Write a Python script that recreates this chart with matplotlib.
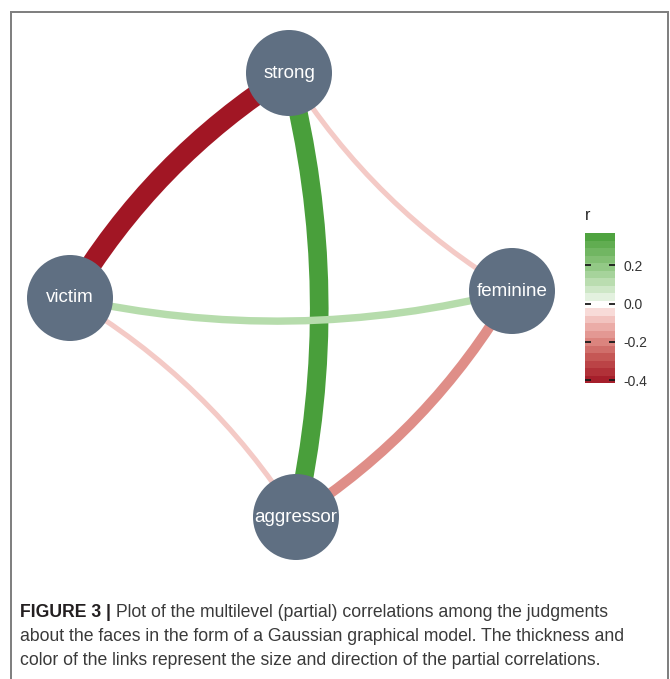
import numpy as np
import matplotlib
matplotlib.use("Agg")
import matplotlib.pyplot as plt
from matplotlib.path import Path
from matplotlib.patches import PathPatch, Circle
from matplotlib.colors import LinearSegmentedColormap, Normalize
from matplotlib.cm import ScalarMappable
from matplotlib.lines import Line2D

plt.rcParams["font.family"] = ["Liberation Sans", "DejaVu Sans"]

# nodes of the Gaussian graphical model (layout in pixel space)
nodes = ["strong", "victim", "feminine", "aggressor"]
node_x = [289, 70, 512, 296]
node_y = [73, 298, 291, 517]

# partial correlations (edge from -> to, sign of the edge sets the bend side)
edge_from = ["strong", "aggressor", "victim", "strong", "aggressor", "aggressor"]
edge_to = ["victim", "strong", "feminine", "feminine", "victim", "feminine"]
edge_r = [-0.415, 0.37, 0.12, -0.07, -0.07, -0.18]

r_min, r_max = min(edge_r), max(edge_r)
legend_ticks = [-0.4, -0.2, 0.0, 0.2]

W, H = 670, 679
fig = plt.figure(figsize=(W / 100, H / 100), dpi=100)
ax = fig.add_axes([0, 0, 1, 1])
ax.set_xlim(0, W)
ax.set_ylim(H, 0)
ax.axis("off")

# red - white - green gradient (roughly Lab-like spacing)
cmap = LinearSegmentedColormap.from_list("rg", [
    (0.00, "#A11624"), (0.15, "#C2504F"), (0.25, "#D9807A"),
    (0.35, "#EBABA6"), (0.45, "#F8DAD7"), (0.50, "#FFFFFF"),
    (0.55, "#E0F0DC"), (0.65, "#B5DBAB"), (0.75, "#8CC57E"),
    (0.86, "#66B056"), (0.94, "#4AA03B"), (1.00, "#46993A"),
])
lim = max(abs(r_min), abs(r_max))
norm = Normalize(-lim, lim)

pos = {n: (x, y) for n, x, y in zip(nodes, node_x, node_y)}
bend = 0.12
px = 72 / 100  # points per pixel

for a, b, r in zip(edge_from, edge_to, edge_r):
    x0, y0 = pos[a]
    x1, y1 = pos[b]
    dx, dy = x1 - x0, y1 - y0
    cx = (x0 + x1) / 2 - bend * dy
    cy = (y0 + y1) / 2 + bend * dx
    path = Path([(x0, y0), (cx, cy), (x1, y1)],
                [Path.MOVETO, Path.CURVE3, Path.CURVE3])
    ax.add_patch(PathPatch(path, fill=False, edgecolor=cmap(norm(r)),
                           linewidth=(2 + 45 * abs(r)) * px,
                           capstyle="butt", zorder=1))

for n, x, y in zip(nodes, node_x, node_y):
    ax.add_patch(Circle((x, y), 43, facecolor="#5F6F82", edgecolor="none", zorder=3))
    ax.text(x, y, n, color="white", fontsize=13.5, ha="center", va="center", zorder=4)

# legend colour bar
cax = fig.add_axes([585 / W, 1 - 383 / H, 30 / W, 150 / H])
bounds = np.linspace(r_min, r_max, 21)
cb = fig.colorbar(ScalarMappable(norm=norm, cmap=cmap), cax=cax,
                  boundaries=bounds, values=(bounds[:-1] + bounds[1:]) / 2)
cb.outline.set_visible(False)
cb.set_ticks(legend_ticks)
cb.set_ticklabels([f"{t:.1f}" for t in legend_ticks])
cax.tick_params(length=0, pad=6, labelsize=10, colors="#333333")
cax.hlines(legend_ticks, 0, 0.2, colors="#1A1A1A", linewidth=1.3)
cax.hlines(legend_ticks, 0.8, 1, colors="#1A1A1A", linewidth=1.3)
fig.text(585 / W, 1 - 215 / H, "r", fontsize=11.5, color="#222222", ha="left", va="center")

# frame around figure and caption
for xs, ys in [((11, 11), (12, H)), ((11, 668), (12, 12)), ((668, 668), (12, H))]:
    ax.add_line(Line2D(xs, ys, color="#808080", linewidth=2 * px, zorder=5))

cap_size = 12.7
bold = ax.text(20, 617, "FIGURE 3 |", fontsize=cap_size, fontweight="bold",
               color="#231F20", ha="left", va="baseline")
ax.annotate(" Plot of the multilevel (partial) correlations among the judgments",
            xy=(1, 0), xycoords=bold, fontsize=cap_size, color="#3A3A3A",
            ha="left", va="bottom")
ax.text(20, 641, "about the faces in the form of a Gaussian graphical model. The thickness and",
        fontsize=cap_size, color="#3A3A3A", ha="left", va="baseline")
ax.text(20, 665, "color of the links represent the size and direction of the partial correlations.",
        fontsize=cap_size, color="#3A3A3A", ha="left", va="baseline")

fig.savefig("out.png", dpi=100)
